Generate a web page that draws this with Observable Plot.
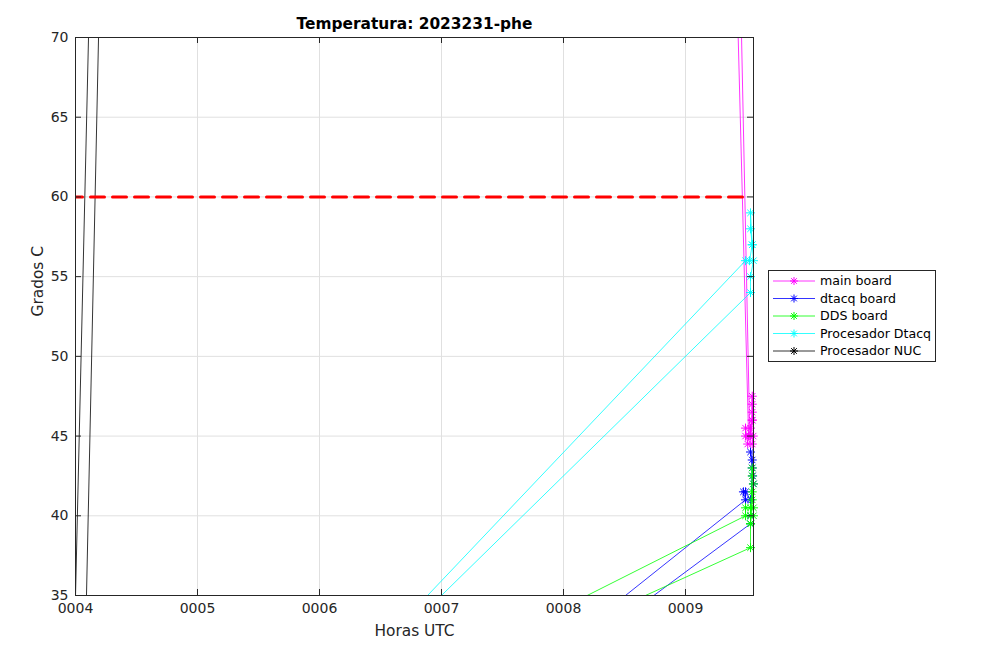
<!DOCTYPE html>
<html><head><meta charset="utf-8">
<script src="https://cdn.jsdelivr.net/npm/d3@7"></script>
<script src="https://cdn.jsdelivr.net/npm/@observablehq/plot@0.6"></script>
<style>body{margin:0;background:#fff} #chart{width:1008px;height:661px}</style>
</head><body><div id="chart"></div>
<script>
// ---- data (x = hours UTC, y = °C) ----
const seriesNames = ["main board", "dtacq board", "DDS board", "Procesador Dtacq", "Procesador NUC"];
const seriesColors = ["#ff00ff", "#0000ff", "#00ff00", "#00ffff", "#000000"];

const mainX  = [9.415, 9.517, 9.492, 9.492, 9.51, 9.547, 9.555, 9.533, 9.547, 9.547, 9.547, 9.547, 9.547, 9.533, 9.527, 9.446];
const mainY  = [75, 45, 45, 45.5, 44.5, 44.5, 45, 45.5, 46, 46.5, 47, 47.5, 46, 45, 45, 75];

const dtacqX = [7.688, 9.492, 9.475, 9.492, 9.533, 9.557, 9.55, 9.547, 9.533, 9.547, 9.533, 9.533, 7.86];
const dtacqY = [30, 41, 41.5, 41.5, 41, 42, 42.5, 43.5, 44, 43, 40, 39.5, 30];

const ddsX   = [6.896, 9.492, 9.492, 9.533, 9.557, 9.557, 9.533, 9.533, 9.547, 9.547, 9.557, 9.547, 9.547, 9.533, 9.533, 7.237];
const ddsY   = [30, 40, 40.5, 40.5, 40.5, 40, 40, 39.5, 41, 41.5, 42, 42.5, 43, 39.5, 38, 30];

const procDX = [6.265, 9.492, 9.525, 9.547, 9.533, 9.533, 9.547, 9.557, 9.533, 9.533, 6.333];
const procDY = [30, 56, 56, 57, 58, 59, 57, 56, 55, 54, 30];

const nucX   = [3.985, 4.122, 4.203, 4.076];
const nucY   = [30, 75, 75, 30];

const limitX = [4, 9.505];
const limitY = [60, 60];

const xTicks = [4, 5, 6, 7, 8, 9];
const yTicks = [35, 40, 45, 50, 55, 60, 65, 70];
const xDomain = [4, 9.5574];
const yDomain = [35, 70];

const titleText = "Temperatura: 2023231-phe";
const xLabel = "Horas UTC";
const yLabel = "Grados C";

// ---- build tables ----
const seriesXY = [[mainX, mainY], [dtacqX, dtacqY], [ddsX, ddsY], [procDX, procDY], [nucX, nucY]];
const tables = seriesXY.map(([xs, ys], i) => xs.map((x, j) => ({series: seriesNames[i], x, y: ys[j]})));
const limitRows = limitX.map((x, j) => ({x, y: limitY[j]}));

const inDomain = d => d.x >= xDomain[0] && d.x <= xDomain[1] && d.y >= yDomain[0] && d.y <= yDomain[1];

// MATLAB-like 8-armed asterisk
const asterisk = {
  draw(ctx, size) {
    const r = Math.sqrt(size / Math.PI), d = r * Math.SQRT1_2;
    ctx.moveTo(-r, 0); ctx.lineTo(r, 0);
    ctx.moveTo(0, -r); ctx.lineTo(0, r);
    ctx.moveTo(-d, -d); ctx.lineTo(d, d);
    ctx.moveTo(-d, d); ctx.lineTo(d, -d);
  }
};

const W = 1008, H = 661, mL = 75, mR = 255, mT = 37, mB = 66;
const fw = W - mL - mR, fh = H - mT - mB;
const axisColor = "#262626", gridColor = "#e0e0e0";
const fmt = d => String(d).padStart(4, "0");

const seriesMarks = tables.flatMap((rows, i) => [
  Plot.line(rows, {x: "x", y: "y", stroke: seriesColors[i], strokeWidth: 0.8, clip: true}),
  Plot.dot(rows.filter(inDomain), {x: "x", y: "y", symbol: asterisk, r: 4.5, fill: "none", stroke: seriesColors[i], strokeWidth: 1})
]);

const plot = Plot.plot({
  width: W, height: H,
  marginLeft: mL, marginRight: mR, marginTop: mT, marginBottom: mB,
  style: {fontFamily: "DejaVu Sans", fontSize: "14px", color: axisColor, background: "white"},
  x: {domain: xDomain},
  y: {domain: yDomain},
  marks: [
    Plot.ruleX(xTicks, {x: d => d, stroke: gridColor, strokeWidth: 1}),
    Plot.ruleY(yTicks, {y: d => d, stroke: gridColor, strokeWidth: 1}),
    ...seriesMarks,
    Plot.line(limitRows, {x: "x", y: "y", stroke: "#ff0000", strokeWidth: 3, strokeDasharray: "14,8", strokeDashoffset: 7, clip: true}),
    // inward ticks
    Plot.ruleX(xTicks, {x: d => d, stroke: axisColor, insetTop: fh - 6}),
    Plot.ruleX(xTicks, {x: d => d, stroke: axisColor, insetBottom: fh - 6}),
    Plot.ruleY(yTicks, {y: d => d, stroke: axisColor, insetRight: fw - 6}),
    Plot.ruleY(yTicks, {y: d => d, stroke: axisColor, insetLeft: fw - 6}),
    Plot.frame({stroke: axisColor, strokeWidth: 1}),
    Plot.axisX({ticks: xTicks, tickFormat: fmt, tickSize: 0, tickPadding: 8, label: null, fontSize: 14}),
    Plot.axisY({ticks: yTicks, tickSize: 0, tickPadding: 7, label: null, fontSize: 14}),
    Plot.text([titleText], {frameAnchor: "top", dy: -13, lineAnchor: "middle", fontWeight: "bold", fontSize: 15.4, fill: "#000"}),
    Plot.text([xLabel], {frameAnchor: "bottom", dy: 36, lineAnchor: "middle", fontSize: 15.4, fill: axisColor}),
    Plot.text([yLabel], {frameAnchor: "left", dx: -37, rotate: -90, lineAnchor: "middle", fontSize: 15.4, fill: axisColor})
  ]
});

// ---- legend ----
const svg = d3.select(plot);
const lg = svg.append("g").attr("font-family", "DejaVu Sans").attr("font-size", 12.6).attr("text-anchor", "start");
lg.append("rect").attr("x", 768.5).attr("y", 270.5).attr("width", 167).attr("height", 91)
  .attr("fill", "white").attr("stroke", axisColor).attr("stroke-width", 1);
const astPath = d3.path(); asterisk.draw(astPath, Math.PI * 16);
seriesNames.forEach((name, i) => {
  const yy = 281 + i * 17.5;
  lg.append("line").attr("x1", 773).attr("x2", 815).attr("y1", yy).attr("y2", yy)
    .attr("stroke", seriesColors[i]).attr("stroke-width", 0.8);
  lg.append("path").attr("d", astPath.toString()).attr("transform", `translate(794,${yy})`)
    .attr("fill", "none").attr("stroke", seriesColors[i]).attr("stroke-width", 1);
  lg.append("text").attr("x", 820).attr("y", yy).attr("dy", "0.35em").attr("text-anchor", "start").attr("fill", "#000").text(name);
});

document.getElementById("chart").appendChild(plot);
</script></body></html>
